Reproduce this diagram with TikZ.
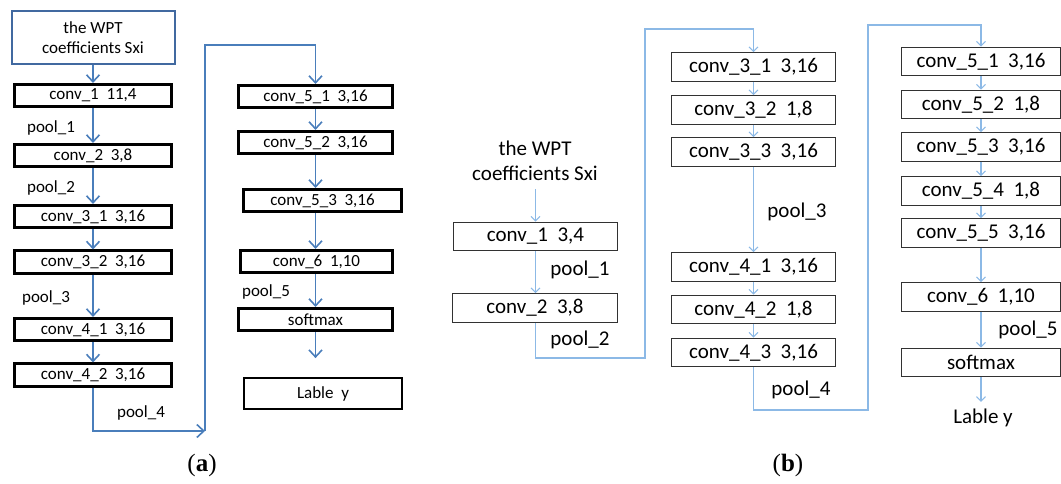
\documentclass[tikz,border=0pt]{standalone}
\usepackage{fontspec}
\setmainfont{Carlito}
\newfontfamily\capfont{Liberation Serif}
\usetikzlibrary{arrows.meta}
\definecolor{ablue}{RGB}{74,126,187}
\definecolor{wblue}{RGB}{65,105,160}
\definecolor{bblue}{RGB}{140,185,230}
\definecolor{bgray}{RGB}{50,50,50}
\tikzset{
 afont/.style={font=\fontsize{17}{20}\selectfont},
 bfont/.style={font=\fontsize{21}{25}\selectfont},
 abox/.style={draw=black, line width=2.6pt, inner sep=0pt, minimum height=22.5pt, afont},
 bbox/.style={draw=bgray, line width=1.1pt, inner sep=0pt, minimum height=28.5pt, bfont},
 aarr/.style={draw=ablue, line width=1.6pt, -{Straight Barb[length=7pt,width=13pt]}},
 barr/.style={draw=bblue, line width=1.1pt, -{Straight Barb[length=4.5pt,width=9pt]}},
 alab/.style={inner sep=0pt, afont},
 blab/.style={inner sep=0pt, bfont},
}
\begin{document}
\begin{tikzpicture}[x=1pt,y=-1pt]
\useasboundingbox (0,0) rectangle (1061,484);
% ---------------- panel (a) ----------------
\node[draw=wblue, line width=2pt, minimum width=163pt, minimum height=53pt, inner sep=0pt, align=center, afont] (wpt) at (93,37.5) {the WPT\\coefficients Sxi};
\node[abox, minimum width=157.5pt] (a1)  at (93,95.5)  {conv\_1~~11,4};
\node[abox, minimum width=157.5pt] (a2)  at (93,155.5) {conv\_2~~3,8};
\node[abox, minimum width=157.5pt] (a31) at (93,216.5) {conv\_3\_1~~3,16};
\node[abox, minimum width=157.5pt] (a32) at (93,262)   {conv\_3\_2~~3,16};
\node[abox, minimum width=157.5pt] (a41) at (93,329.5) {conv\_4\_1~~3,16};
\node[abox, minimum width=157.5pt] (a42) at (93,375)   {conv\_4\_2~~3,16};
\node[abox, minimum width=154.5pt] (a51) at (315.5,96.5)  {conv\_5\_1~~3,16};
\node[abox, minimum width=154.5pt] (a52) at (315.5,142.5) {conv\_5\_2~~3,16};
\node[abox, minimum width=158.5pt] (a53) at (322.5,200.5) {conv\_5\_3~~3,16};
\node[abox, minimum width=152.5pt] (a6)  at (316.5,261.5) {conv\_6~~1,10};
\node[abox, minimum width=154.5pt] (asm) at (315.5,319.5) {softmax};
\node[draw=black, line width=1.8pt, minimum width=158pt, minimum height=31pt, inner sep=0pt, afont] (al) at (323,393.5) {Lable~~y};
\node[alab] (pa1) at (51,128) {pool\_1};
\node[alab] (pa2) at (51,188) {pool\_2};
\node[alab] (pa3) at (46,298) {pool\_3};
\node[alab] (pa4) at (141,413) {pool\_4};
\node[alab] (pa5) at (266,292) {pool\_5};
\draw[aarr] (wpt.south) -- (a1.north);
\draw[aarr] (a1.south) -- (a2.north);
\draw[aarr] (a2.south) -- (a31.north);
\draw[aarr] (a31.south) -- (a32.north);
\draw[aarr] (a32.south) -- (a41.north);
\draw[aarr] (a41.south) -- (a42.north);
\coordinate (ja) at (205,431);
\coordinate (jb) at (205,45);
\draw[aarr] (a42.south) |- (ja);
\draw[aarr] (ja) -- (jb) -| (a51.north);
\draw[aarr] (a51.south) -- (a52.north);
\draw[aarr] (a52.south) -- (a52.south |- a53.north);
\draw[aarr] (a52.south |- a53.south) -- (a52.south |- a6.north);
\draw[aarr] (a6.south -| asm.south) -- (asm.north);
\draw[aarr, shorten >=19pt] (asm.south) -- (asm.south |- al.north);
\node[inner sep=0pt, font=\capfont\fontsize{25}{27}\selectfont] (capa) at (202,465) {(\textbf{a})};
% ---------------- panel (b) ----------------
\node[blab, align=center] (bw) at (535,161) {the WPT\\coefficients Sxi};
\node[bbox, minimum width=164pt] (b1) at (535.5,236.5) {conv\_1~~3,4};
\node[bbox, minimum width=165pt] (b2) at (535,308) {conv\_2~~3,8};
\node[bbox, minimum width=164pt] (b31) at (753.5,67)    {conv\_3\_1~~3,16};
\node[bbox, minimum width=164pt] (b32) at (753.5,110)   {conv\_3\_2~~1,8};
\node[bbox, minimum width=164pt] (b33) at (753.5,152)   {conv\_3\_3~~3,16};
\node[bbox, minimum width=164pt] (b41) at (753.5,267)   {conv\_4\_1~~3,16};
\node[bbox, minimum width=164pt] (b42) at (753.5,309.5) {conv\_4\_2~~1,8};
\node[bbox, minimum width=164pt] (b43) at (753.5,352.5) {conv\_4\_3~~3,16};
\node[bbox, minimum width=159pt] (b51) at (981,61.5)  {conv\_5\_1~~3,16};
\node[bbox, minimum width=159pt] (b52) at (981,104.5) {conv\_5\_2~~1,8};
\node[bbox, minimum width=159pt] (b53) at (981,147)   {conv\_5\_3~~3,16};
\node[bbox, minimum width=159pt] (b54) at (981,191)   {conv\_5\_4~~1,8};
\node[bbox, minimum width=159pt] (b55) at (981,233)   {conv\_5\_5~~3,16};
\node[bbox, minimum width=159pt] (b6)  at (981,297)   {conv\_6~~1,10};
\node[bbox, minimum width=159pt] (bsm) at (981,362.5) {softmax};
\node[blab] (bly) at (983,418) {Lable y};
\node[blab] (pb1) at (580,270) {pool\_1};
\node[blab] (pb2) at (580,340) {pool\_2};
\node[blab] (pb3) at (797,212) {pool\_3};
\node[blab] (pb4) at (801,390) {pool\_4};
\node[blab] (pb5) at (1028,330) {pool\_5};
\draw[barr, shorten <=8pt] (bw.south -| b1.north) -- (b1.north);
\draw[barr] (b1.south) -- (b1.south |- b2.north);
\coordinate (p1) at (645,358);
\coordinate (p2) at (645,29);
\draw[barr] (b1.south |- b2.south) |- (p1) -- (p2) -| (b31.north);
\draw[barr] (b31.south) -- (b32.north);
\draw[barr] (b32.south) -- (b33.north);
\draw[barr] (b33.south) -- (b41.north);
\draw[barr] (b41.south) -- (b42.north);
\draw[barr] (b42.south) -- (b43.north);
\coordinate (q1) at (868,410);
\coordinate (q2) at (868,25);
\draw[barr] (b43.south) |- (q1) -- (q2) -| (b51.north);
\draw[barr] (b51.south) -- (b52.north);
\draw[barr] (b52.south) -- (b53.north);
\draw[barr] (b53.south) -- (b54.north);
\draw[barr] (b54.south) -- (b55.north);
\draw[barr] (b55.south) -- (b6.north);
\draw[barr] (b6.south) -- (bsm.north);
\draw[barr, shorten >=7pt] (bsm.south) -- (bsm.south |- bly.north);
\node[inner sep=0pt, font=\capfont\fontsize{25}{27}\selectfont] (capb) at (788,465) {(\textbf{b})};
\end{tikzpicture}
\end{document}
